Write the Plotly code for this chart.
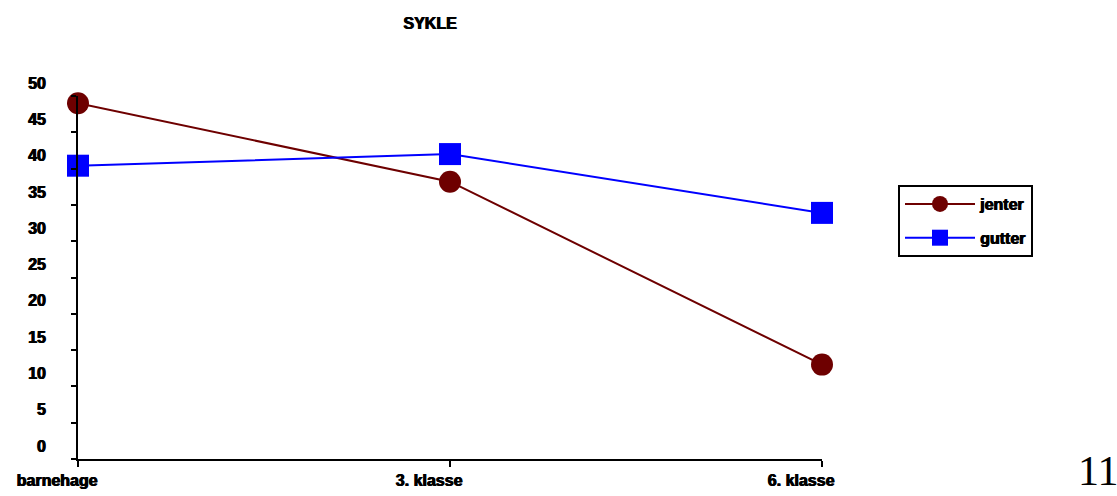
import plotly.graph_objects as go

categories = ["barnehage", "3. klasse", "6. klasse"]
jenter = [49.0, 38.2, 13.0]
gutter = [40.4, 42.0, 33.9]
y_ticks = [0, 5, 10, 15, 20, 25, 30, 35, 40, 45, 50]

W, H = 1117, 496
L, R, T, B = 78, 822, 96, 459

fig = go.Figure()
fig.add_trace(go.Scatter(
    x=categories, y=jenter, name="jenter", mode="lines+markers", legendgroup="j",
    line=dict(color="#6e0000", width=2),
    marker=dict(symbol="circle", size=22, color="#6e0000"),
    cliponaxis=False,
))
fig.add_trace(go.Scatter(
    x=categories, y=gutter, name="gutter", mode="lines+markers", legendgroup="g",
    line=dict(color="#0000ff", width=2),
    marker=dict(symbol="square", size=22, color="#0000ff"),
    cliponaxis=False,
))

font = dict(family="Liberation Sans", size=16, color="black", weight="bold",
            shadow="0.7px 0 0 black, -0.3px 0 0 black")

fig.update_layout(
    width=W, height=H,
    margin=dict(l=L, r=W - R, t=T, b=H - B, pad=0, autoexpand=False),
    paper_bgcolor="white", plot_bgcolor="white",
    font=font,
    title=dict(text="SYKLE", x=430 / W, xref="container", xanchor="center",
               y=1 - 23 / H, yref="container", yanchor="middle", font=font),
    xaxis=dict(type="category", range=[0, 2], showgrid=False, zeroline=False,
               showline=True, linecolor="black", linewidth=2, automargin=False,
               ticks="outside", ticklen=6, tickwidth=2, tickcolor="black",
               ticklabelshift=-21, tickfont=font),
    yaxis=dict(range=[0, 50], tickvals=y_ticks, showgrid=False, zeroline=False,
               showline=True, linecolor="black", linewidth=2, automargin=False,
               ticks="outside", ticklen=5, tickwidth=2, tickcolor="black",
               ticklabelshift=-13, ticklabelstandoff=22, tickfont=font),
    legend=dict(x=(898 - L) / (R - L), y=(B - 185) / (B - T), xanchor="left", yanchor="top",
                bordercolor="black", borderwidth=2, bgcolor="white",
                font=font, itemwidth=70, tracegroupgap=10),
    showlegend=True,
)

fig.add_annotation(text="11", xref="paper", yref="paper",
                   x=(1098 - L) / (R - L), y=(B - 471) / (B - T),
                   xanchor="center", yanchor="middle", showarrow=False,
                   font=dict(family="Liberation Serif", size=42, color="black",
                             weight="normal", shadow="none"))

fig.write_html("out.html", config={"displayModeBar": False},
               post_script="document.body.style.margin='0';")
